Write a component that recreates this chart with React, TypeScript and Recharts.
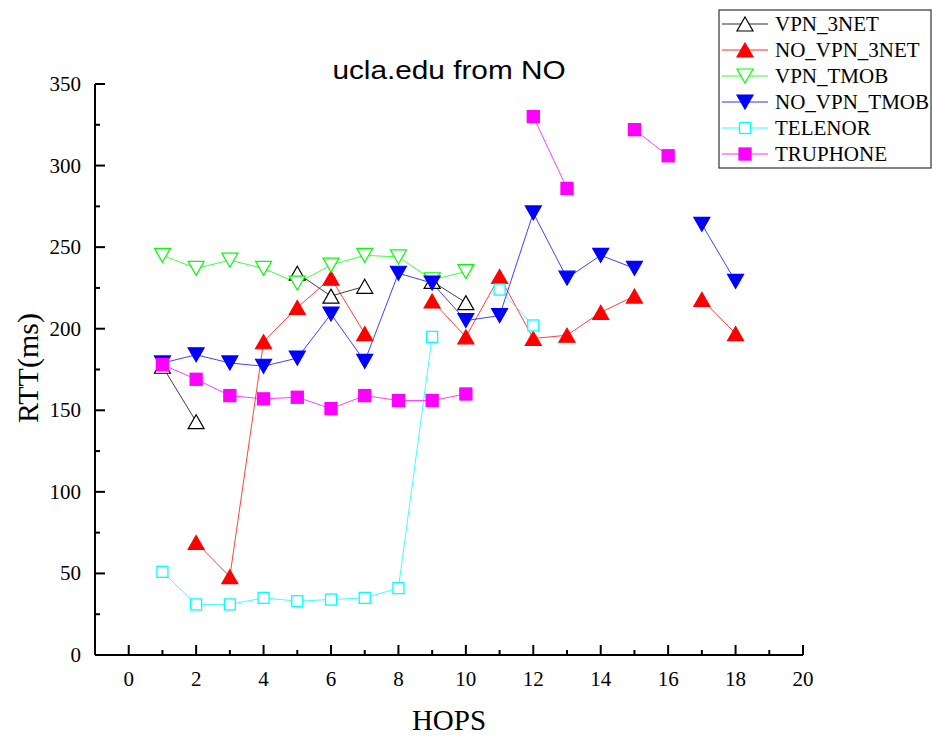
import { LineChart, Line, XAxis, YAxis } from 'recharts';

// hop index for every row of the table
const hops = [1, 2, 3, 4, 5, 6, 7, 8, 9, 10, 11, 12, 13, 14, 15, 16, 17, 18];

// RTT per hop in ms, null where the hop did not answer
const vpn3net = [177, 143, null, null, 234, 220, 226, null, 229, 216, null, null, null, null, null, null, null, null];
const noVpn3net = [null, 69, 48, 192, 213, 231, 197, null, 217, 195, 232, 194, 196, 210, 220, null, 218, 197];
const vpnTmob = [245, 237, 242, 237, 228, 239, 245, 244, 230, 235, null, null, null, null, null, null, null, null];
const noVpnTmob = [179, 184, 179, 177, 182, 209, 180, 234, 228, 205, 208, 271, 231, 245, 237, null, 264, 229];
const telenor = [51, 31, 31, 35, 33, 34, 35, 41, 195, null, 224, 202, null, null, null, null, null, null];
const truphone = [178, 169, 159, 157, 158, 151, 159, 156, 156, 160, null, 330, 286, null, 322, 306, null, null];

const xTicks = [0, 1, 2, 3, 4, 5, 6, 7, 8, 9, 10, 11, 12, 13, 14, 15, 16, 17, 18, 19, 20];
const yTicks = [0, 25, 50, 75, 100, 125, 150, 175, 200, 225, 250, 275, 300, 325, 350];

type Shape = 'up' | 'down' | 'square';

const series: { key: string; name: string; color: string; shape: Shape; filled: boolean; values: (number | null)[] }[] = [
  { key: 'vpn3net', name: 'VPN_3NET', color: '#000000', shape: 'up', filled: false, values: vpn3net },
  { key: 'noVpn3net', name: 'NO_VPN_3NET', color: '#ff0000', shape: 'up', filled: true, values: noVpn3net },
  { key: 'vpnTmob', name: 'VPN_TMOB', color: '#00ff00', shape: 'down', filled: false, values: vpnTmob },
  { key: 'noVpnTmob', name: 'NO_VPN_TMOB', color: '#0000ff', shape: 'down', filled: true, values: noVpnTmob },
  { key: 'telenor', name: 'TELENOR', color: '#00ffff', shape: 'square', filled: false, values: telenor },
  { key: 'truphone', name: 'TRUPHONE', color: '#ff00ff', shape: 'square', filled: true, values: truphone },
];

const rows = hops.map((hop, i) => {
  const row: Record<string, number | null> = { hop };
  series.forEach((s) => { row[s.key] = s.values[i]; });
  return row;
});

const SERIF = '"Liberation Serif", "Times New Roman", serif';

function marker(shape: Shape, filled: boolean, color: string, cx: number, cy: number) {
  const fill = filled ? color : '#ffffff';
  if (shape === 'square') {
    const h = filled ? 6 : 5.5;
    return <rect x={cx - h} y={cy - h} width={h * 2} height={h * 2} fill={fill} stroke={color} strokeWidth={1.3} />;
  }
  const d = shape === 'up'
    ? `M${cx},${cy - 7} L${cx + 8},${cy + 7} L${cx - 8},${cy + 7} Z`
    : `M${cx},${cy + 7} L${cx + 8},${cy - 7} L${cx - 8},${cy - 7} Z`;
  return <path d={d} fill={fill} stroke={color} strokeWidth={1.2} strokeLinejoin="miter" />;
}

// ticks point inward, labels only on the bottom/left axes
const bottomTick = ({ x, y, payload }: any) => {
  const major = payload.value % 2 === 0;
  return (
    <g>
      <line x1={x} x2={x} y1={y} y2={y - (major ? 10 : 5)} stroke="#000" strokeWidth={2} />
      {major && (
        <text x={x} y={y + 31} textAnchor="middle" fontFamily={SERIF} fontSize={21} fill="#000">{payload.value}</text>
      )}
    </g>
  );
};
const topTick = ({ x, y, payload }: any) => {
  const major = payload.value % 2 === 0;
  return <line x1={x} x2={x} y1={y} y2={y + (major ? 10 : 5)} stroke="#000" strokeWidth={2} />;
};
const leftTick = ({ x, y, payload }: any) => {
  const major = payload.value % 50 === 0;
  return (
    <g>
      <line x1={x} x2={x + (major ? 10 : 5)} y1={y} y2={y} stroke="#000" strokeWidth={2} />
      {major && (
        <text x={x - 14} y={y + 7} textAnchor="end" fontFamily={SERIF} fontSize={21} fill="#000">{payload.value}</text>
      )}
    </g>
  );
};
const rightTick = ({ x, y, payload }: any) => {
  const major = payload.value % 50 === 0;
  return <line x1={x} x2={x - (major ? 10 : 5)} y1={y} y2={y} stroke="#000" strokeWidth={2} />;
};

function RttLegend() {
  return (
    <svg width={214} height={160} style={{ position: 'absolute', left: 718, top: 9 }}>
      <rect x={1} y={1} width={212} height={158} fill="#ffffff" stroke="#333" strokeWidth={1.2} />
      {series.map((s, i) => {
        const cy = 15 + i * 26;
        return (
          <g key={s.key}>
            <line x1={4} x2={50} y1={cy} y2={cy} stroke={s.color} strokeOpacity={0.55} strokeWidth={1.5} />
            {marker(s.shape, s.filled, s.color, 27, cy)}
            <text x={57} y={cy + 7} fontFamily={SERIF} fontSize={21} fill="#000">{s.name}</text>
          </g>
        );
      })}
    </svg>
  );
}

export default function App() {
  return (
    <div style={{ position: 'absolute', left: 0, top: 0, width: 933, height: 737, background: '#fff' }}>
      <LineChart width={933} height={737} data={rows} margin={{ top: 84, right: 130, bottom: 0, left: 0 }}>
        <XAxis xAxisId="b" dataKey="hop" type="number" domain={[-1, 20]} ticks={xTicks} interval={0}
          height={82} tickSize={0} tickMargin={0} tickLine={false} tick={bottomTick}
          axisLine={{ stroke: '#000', strokeWidth: 2 }} allowDataOverflow />
        <XAxis xAxisId="t" dataKey="hop" type="number" orientation="top" domain={[-1, 20]} ticks={xTicks} interval={0}
          height={0} tickSize={0} tickMargin={0} tickLine={false} tick={topTick}
          axisLine={{ stroke: '#000', strokeWidth: 2 }} allowDataOverflow />
        <YAxis yAxisId="l" type="number" domain={[0, 350]} ticks={yTicks} interval={0}
          width={95} tickSize={0} tickMargin={0} tickLine={false} tick={leftTick}
          axisLine={{ stroke: '#000', strokeWidth: 2 }} allowDataOverflow />
        <YAxis yAxisId="r" type="number" orientation="right" domain={[0, 350]} ticks={yTicks} interval={0}
          width={0} tickSize={0} tickMargin={0} tickLine={false} tick={rightTick}
          axisLine={{ stroke: '#000', strokeWidth: 2 }} allowDataOverflow />
        {series.map((s) => (
          <Line key={s.key} xAxisId="b" yAxisId="l" dataKey={s.key} name={s.name}
            stroke={s.color} strokeWidth={1} strokeOpacity={0.75} isAnimationActive={false}
            activeDot={false}
            dot={(p: any) => {
              if (p.cx == null || p.cy == null || p.value == null) return <g key={p.index} />;
              return <g key={p.index}>{marker(s.shape, s.filled, s.color, p.cx, p.cy)}</g>;
            }} />
        ))}
      </LineChart>
      <div style={{ position: 'absolute', left: 0, top: 56, width: 898, textAlign: 'center', fontFamily: '"Liberation Sans", Arial, sans-serif', fontSize: 25, transform: 'scaleX(1.19)', transformOrigin: '449px 0' }}>
        ucla.edu from NO
      </div>
      <div style={{ position: 'absolute', left: 0, top: 704, width: 898, textAlign: 'center', fontFamily: SERIF, fontSize: 29 }}>
        HOPS
      </div>
      <div style={{ position: 'absolute', left: 28, top: 368, transform: 'translate(-50%, -50%) rotate(-90deg)', whiteSpace: 'nowrap', fontFamily: SERIF, fontSize: 30 }}>
        RTT(ms)
      </div>
      <RttLegend />
    </div>
  );
}
